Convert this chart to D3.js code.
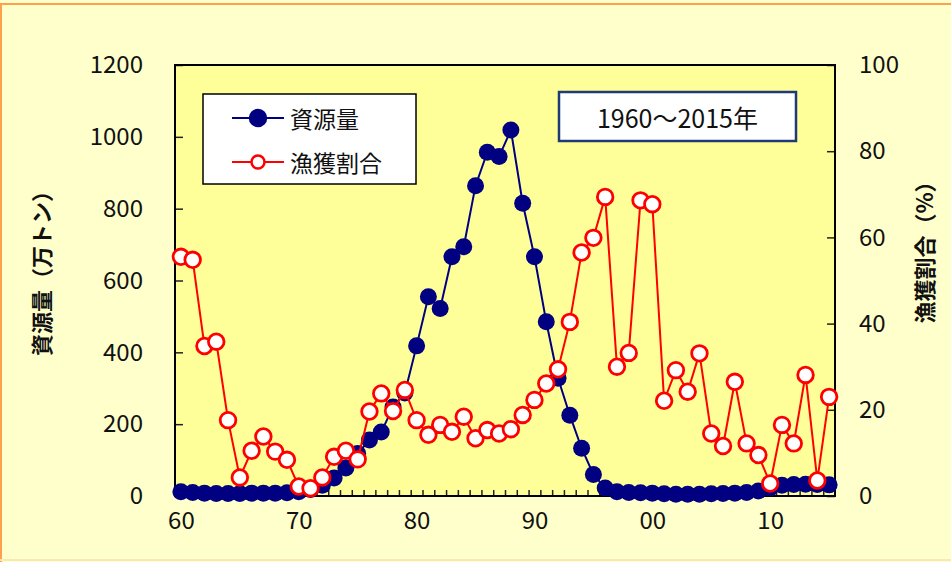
<!DOCTYPE html>
<html>
<head>
<meta charset="utf-8">
<script src="https://cdn.jsdelivr.net/npm/d3@7"></script>
<style>
  body { margin:0; background:#ffffcc; }
  text { font-family:"Noto Sans CJK JP","Noto Sans",sans-serif; fill:#111; }
</style>
</head>
<body>
<div id="chart"></div>
<script>
// ----- DATA -----
const years = d3.range(1960, 2016);
const xTickYears = [1960, 1970, 1980, 1990, 2000, 2010];
const leftTicks = [0, 200, 400, 600, 800, 1000, 1200];
const rightTicks = [0, 20, 40, 60, 80, 100];

// 資源量 (万トン)
const biomass = [
    12, 10, 8, 7, 7, 7, 8, 8, 8, 9,
    12, 18, 30, 50, 78, 118, 156, 178, 248, 287,
    418, 555, 522, 666, 694, 864, 957, 945, 1019, 815,
    666, 485, 328, 225, 133, 60, 22, 12, 10, 9,
    8, 6, 5, 5, 5, 6, 7, 8, 10, 14,
    22, 30, 32, 33, 32, 31
];

// 漁獲割合 (%)
const catchRate = [
    55.5, 54.8, 34.8, 35.8, 17.6, 4.3, 10.5, 13.8, 10.3, 8.4,
    2.2, 1.8, 4.3, 9.1, 10.5, 8.5, 19.6, 23.8, 19.7, 24.6,
    17.6, 14.2, 16.5, 14.9, 18.4, 13.4, 15.3, 14.5, 15.5, 18.8,
    22.3, 26.1, 29.4, 40.4, 56.5, 59.9, 69.4, 30.0, 33.2, 68.6,
    67.7, 22.1, 29.2, 24.2, 33.1, 14.5, 11.6, 26.5, 12.2, 9.5,
    2.9, 16.5, 12.2, 28.1, 3.6, 23.0
];

const seriesNames = ["資源量", "漁獲割合"];
const periodLabel = "1960～2015年";
const leftTitle = "資源量（万トン）";
const rightTitle = "漁獲割合（%）";

// ----- LAYOUT -----
const W = 951, H = 562;
const plot = {left:175, right:835, top:65, bottom:496};

const svg = d3.select("#chart").append("svg")
    .attr("width", W)
    .attr("height", H);

// frame
svg.append("rect").attr("width", W).attr("height", H).attr("fill", "#ffffcc");
svg.append("line").attr("x1",0).attr("x2",W).attr("y1",4).attr("y2",4)
    .attr("stroke","#ffa050").attr("stroke-width",2);
svg.append("line").attr("x1",1).attr("x2",1).attr("y1",4).attr("y2",H)
    .attr("stroke","#ffa050").attr("stroke-width",2);
svg.append("line").attr("x1",0).attr("x2",W).attr("y1",H-2).attr("y2",H-2)
    .attr("stroke","#fbe6b8").attr("stroke-width",2);

// scales
const x = d3.scaleLinear().domain([1959.5, 2015.5]).range([plot.left, plot.right]);
const yL = d3.scaleLinear().domain([0, 1200]).range([plot.bottom, plot.top]);
const yR = d3.scaleLinear().domain([0, 100]).range([plot.bottom, plot.top]);

// plot area
svg.append("rect")
    .attr("x", plot.left).attr("y", plot.top)
    .attr("width", plot.right - plot.left)
    .attr("height", plot.bottom - plot.top)
    .attr("fill", "#ffff99");

// ----- AXES -----
const axisLeft = svg.append("g")
    .attr("transform", `translate(${plot.left},0)`)
    .call(d3.axisLeft(yL).tickValues(leftTicks).tickFormat(d3.format("d"))
        .tickSizeInner(-8).tickSizeOuter(0).tickPadding(32));

const axisRight = svg.append("g")
    .attr("transform", `translate(${plot.right},0)`)
    .call(d3.axisRight(yR).tickValues(rightTicks).tickFormat(d3.format("d"))
        .tickSizeInner(-8).tickSizeOuter(0).tickPadding(24));

// minor year ticks (inside)
svg.append("g")
    .attr("transform", `translate(0,${plot.bottom})`)
    .call(d3.axisBottom(x).tickValues(years.slice(0, -1).map(d => d + 0.5))
        .tickSizeInner(-6).tickSizeOuter(0).tickFormat(""));

const axisBottom = svg.append("g")
    .attr("transform", `translate(0,${plot.bottom})`)
    .call(d3.axisBottom(x).tickValues(xTickYears).tickSize(0).tickPadding(16)
        .tickFormat(d => String(d % 100).padStart(2, "0")));

[axisLeft, axisRight, axisBottom].forEach(a => {
    a.select(".domain").remove();
    a.selectAll("text").style("font-size", "24px").attr("fill", "#111");
});
svg.selectAll(".tick line").attr("stroke", "#222").attr("stroke-width", 1.5);

// plot border
svg.append("rect")
    .attr("x", plot.left).attr("y", plot.top)
    .attr("width", plot.right - plot.left)
    .attr("height", plot.bottom - plot.top)
    .attr("fill", "none")
    .attr("stroke", "#000")
    .attr("stroke-width", 2);

// ----- SERIES -----
const blue = "#000080", red = "#ff0000";

const lineL = d3.line().x((d, i) => x(years[i])).y(d => yL(d));
const lineR = d3.line().x((d, i) => x(years[i])).y(d => yR(d));

svg.append("path").datum(biomass)
    .attr("d", lineL)
    .attr("fill", "none").attr("stroke", blue).attr("stroke-width", 2);

svg.append("g").selectAll("circle").data(biomass).join("circle")
    .attr("cx", (d, i) => x(years[i]))
    .attr("cy", d => yL(d))
    .attr("r", 8.5)
    .attr("fill", blue);

svg.append("path").datum(catchRate)
    .attr("d", lineR)
    .attr("fill", "none").attr("stroke", red).attr("stroke-width", 2);

svg.append("g").selectAll("circle").data(catchRate).join("circle")
    .attr("cx", (d, i) => x(years[i]))
    .attr("cy", d => yR(d))
    .attr("r", 7.8)
    .attr("fill", "#fff")
    .attr("stroke", red)
    .attr("stroke-width", 2.8);

// ----- LEGEND -----
const legend = svg.append("g");
legend.append("rect")
    .attr("x", 203).attr("y", 94).attr("width", 213).attr("height", 90)
    .attr("fill", "#fff").attr("stroke", "#000").attr("stroke-width", 1.5);

const legendRows = [
    {name: seriesNames[0], color: blue, fill: blue, r: 8, y: 118},
    {name: seriesNames[1], color: red, fill: "#fff", r: 6.5, y: 162}
];
legendRows.forEach(row => {
    legend.append("line")
        .attr("x1", 232).attr("x2", 284).attr("y1", row.y).attr("y2", row.y)
        .attr("stroke", row.color).attr("stroke-width", 2);
    legend.append("circle")
        .attr("cx", 258).attr("cy", row.y).attr("r", row.r)
        .attr("fill", row.fill).attr("stroke", row.color).attr("stroke-width", 2.5);
    legend.append("text")
        .attr("x", 290).attr("y", row.y)
        .attr("dominant-baseline", "central")
        .style("font-size", "23px")
        .text(row.name);
});

// period box
svg.append("rect")
    .attr("x", 559).attr("y", 92).attr("width", 237).attr("height", 49)
    .attr("fill", "#fff").attr("stroke", "#1f3a75").attr("stroke-width", 2.5);
svg.append("text")
    .attr("x", 677.5).attr("y", 117)
    .attr("text-anchor", "middle")
    .attr("dominant-baseline", "central")
    .style("font-size", "25px")
    .text(periodLabel);

// axis titles
svg.append("text")
    .attr("transform", "translate(40,268) rotate(-90)")
    .attr("text-anchor", "middle")
    .attr("dominant-baseline", "central")
    .style("font-size", "22px")
    .style("font-weight", "bold")
    .text(leftTitle);

svg.append("text")
    .attr("transform", "translate(923,247) rotate(-90)")
    .attr("text-anchor", "middle")
    .attr("dominant-baseline", "central")
    .style("font-size", "22px")
    .style("font-weight", "bold")
    .text(rightTitle);
</script>
</body>
</html>
